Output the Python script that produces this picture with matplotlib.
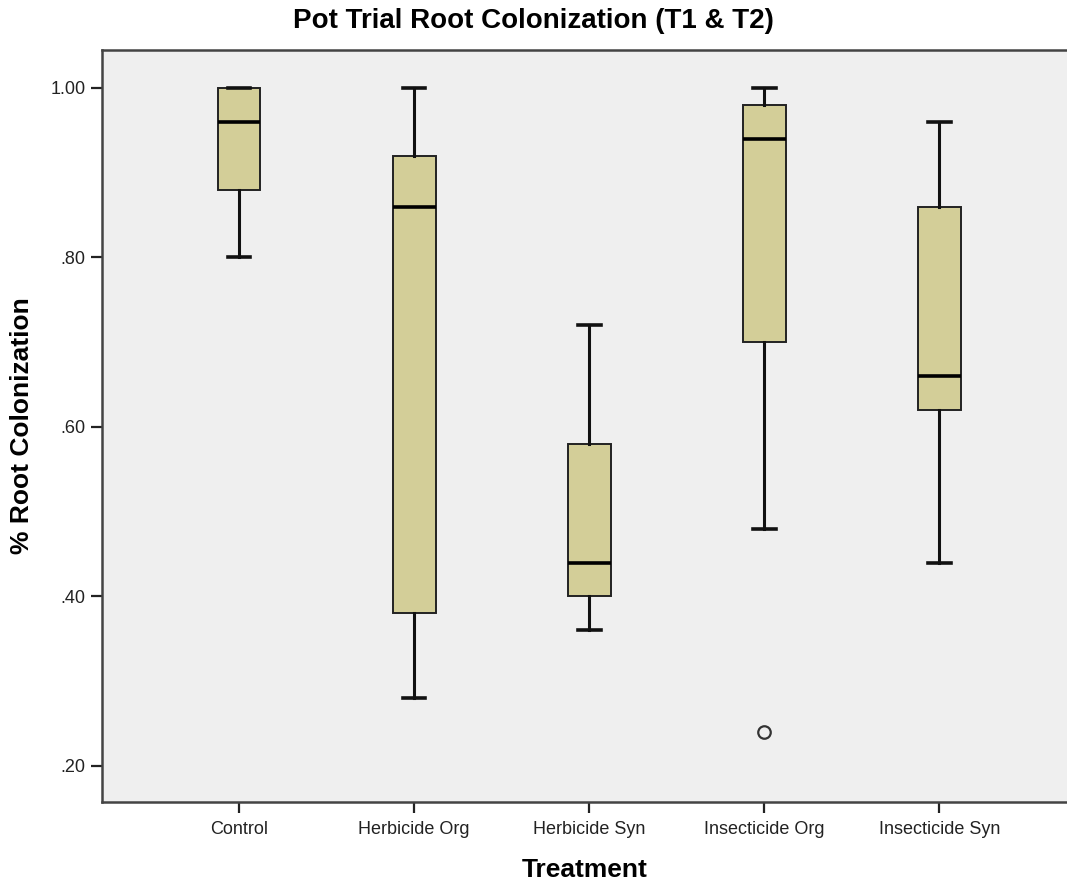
import matplotlib
matplotlib.use("Agg")
import matplotlib.pyplot as plt

categories = ["Control", "Herbicide Org", "Herbicide Syn", "Insecticide Org", "Insecticide Syn"]
whislo = [0.80, 0.28, 0.36, 0.48, 0.44]
q1 = [0.88, 0.38, 0.40, 0.70, 0.62]
med = [0.96, 0.86, 0.44, 0.94, 0.66]
q3 = [1.00, 0.92, 0.58, 0.98, 0.86]
whishi = [1.00, 1.00, 0.72, 1.00, 0.96]
fliers = [[], [], [], [0.24], []]
yticks = [0.20, 0.40, 0.60, 0.80, 1.00]
ytick_labels = [".20", ".40", ".60", ".80", "1.00"]

plt.rcParams['font.family'] = ['Liberation Sans', 'DejaVu Sans']

fig = plt.figure(figsize=(10.67, 8.81), dpi=100)
ax = fig.add_axes([102/1067, 79/881, 1 - 102/1067, (802-50)/881])
ax.set_facecolor("#efefef")

stats = []
for i, c in enumerate(categories):
    stats.append(dict(label=c, whislo=whislo[i], q1=q1[i], med=med[i],
                      q3=q3[i], whishi=whishi[i], fliers=fliers[i]))

ax.bxp(stats, positions=range(len(categories)), widths=0.245, patch_artist=True,
       showfliers=True,
       boxprops=dict(facecolor="#d3ce98", edgecolor="#222222", linewidth=1.4),
       medianprops=dict(color="black", linewidth=2.6),
       whiskerprops=dict(color="#111111", linewidth=2.2),
       capprops=dict(color="#111111", linewidth=2.6),
       capwidths=0.13,
       flierprops=dict(marker="o", markerfacecolor="none", markeredgecolor="#333333",
                       markersize=9, markeredgewidth=1.6))

ax.set_xlim(-0.783, 4.73)
ax.set_ylim(0.1575, 1.0448)
ax.set_yticks(yticks)
ax.set_yticklabels(ytick_labels)
ax.set_xticks(range(len(categories)))
ax.set_xticklabels(categories)
ax.tick_params(axis="both", direction="out", length=8, width=1.6, color="#222222",
               labelsize=13, labelcolor="#222222", pad=4)
ax.tick_params(axis="x", pad=6)
for s in ["left", "bottom", "top"]:
    ax.spines[s].set_color("#444444")
    ax.spines[s].set_linewidth(1.8)
ax.spines["right"].set_visible(False)

ax.set_ylabel("% Root Colonization", fontsize=19, fontweight="bold", labelpad=12)
ax.set_xlabel("Treatment", fontsize=19, fontweight="bold", labelpad=14)
fig.text(533/1067, 1 - 21/881, "Pot Trial Root Colonization (T1 & T2)", ha="center", va="center",
         fontsize=20, fontweight="bold")

fig.savefig("out.png", dpi=100)
